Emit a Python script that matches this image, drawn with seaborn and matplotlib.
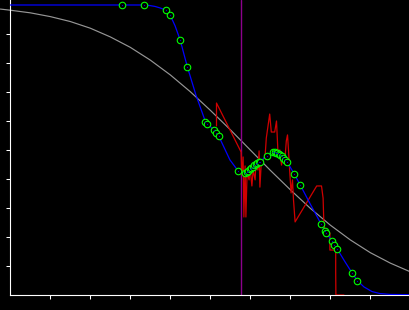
import matplotlib
matplotlib.use("Agg")
import matplotlib.pyplot as plt
import seaborn as sns
import pandas as pd

# ---- data ----
gray_x = [-0.25, 0.0, 0.5, 1.0, 1.5, 2.0, 2.5, 3.0, 3.5, 4.0, 4.5, 5.0, 5.5,
          6.0, 6.5, 7.0, 7.5, 8.0, 8.5, 9.0, 9.5, 10.0]
gray_y = [0.986, 0.982, 0.973, 0.960, 0.943, 0.920, 0.890, 0.854, 0.810, 0.759,
          0.701, 0.637, 0.570, 0.500, 0.430, 0.363, 0.299, 0.241, 0.190, 0.146,
          0.110, 0.080]

blue_x = [0.0, 3.35, 3.49, 3.62, 3.74, 3.90, 4.00, 4.12, 4.25, 4.34, 4.43, 4.64,
          4.88, 4.93, 5.09, 5.21, 5.34, 5.49, 5.70, 5.87, 5.99, 6.14, 6.255, 6.405,
          6.57, 6.64, 6.755, 6.87, 6.925, 7.10, 7.25, 7.505, 7.77, 7.87, 8.05,
          8.18, 8.37, 8.55, 8.675, 8.84, 9.04, 9.24, 9.49, 9.99]
blue_y = [1.0, 1.0, 0.998, 0.995, 0.990, 0.982, 0.964, 0.928, 0.878, 0.831, 0.785,
          0.690, 0.597, 0.590, 0.569, 0.548, 0.510, 0.466, 0.427, 0.420, 0.433,
          0.452, 0.460, 0.481, 0.493, 0.491, 0.483, 0.467, 0.458, 0.417, 0.379,
          0.312, 0.245, 0.220, 0.185, 0.157, 0.114, 0.075, 0.050, 0.028, 0.012,
          0.005, 0.002, 0.001]

green_x = [2.79, 3.35, 3.90, 4.00, 4.25, 4.43, 4.88, 4.93, 5.09, 5.155, 5.21,
           5.70, 5.87, 5.92, 5.955, 5.99, 6.03, 6.07, 6.105, 6.14, 6.18, 6.22,
           6.255, 6.405, 6.57, 6.605, 6.64, 6.68, 6.72, 6.755, 6.79, 6.83, 6.87,
           6.925, 7.10, 7.25, 7.77, 7.87, 7.90, 8.05, 8.10, 8.18, 8.55, 8.675]
green_y = [1.0, 1.0, 0.982, 0.964, 0.878, 0.785, 0.597, 0.590, 0.569, 0.559, 0.548,
           0.427, 0.420, 0.424, 0.428, 0.433, 0.438, 0.441, 0.447, 0.452, 0.455,
           0.459, 0.460, 0.481, 0.493, 0.493, 0.491, 0.490, 0.486, 0.483, 0.478,
           0.472, 0.467, 0.458, 0.417, 0.379, 0.245, 0.220, 0.215, 0.185, 0.171,
           0.157, 0.075, 0.050]

red_x = [5.155, 5.155, 5.77, 5.79, 5.82, 5.84, 5.87, 5.89, 5.92, 5.97, 5.99, 6.04,
         6.07, 6.12, 6.14, 6.19, 6.22, 6.24, 6.27, 6.32, 6.37, 6.40, 6.485, 6.525,
         6.61, 6.655, 6.69, 6.74, 6.78, 6.82, 6.87, 6.90, 6.93, 6.955, 6.98, 7.02,
         7.055, 7.08, 7.12, 7.66, 7.78, 7.82, 7.84, 7.89, 7.99, 7.99, 8.135, 8.135,
         8.14, 8.34]
red_y = [0.583, 0.662, 0.493, 0.414, 0.476, 0.269, 0.445, 0.269, 0.424, 0.397,
         0.445, 0.376, 0.431, 0.397, 0.455, 0.431, 0.497, 0.372, 0.445, 0.466,
         0.479, 0.541, 0.624, 0.562, 0.562, 0.600, 0.497, 0.500, 0.448, 0.486,
         0.476, 0.531, 0.552, 0.500, 0.438, 0.352, 0.397, 0.328, 0.252, 0.376,
         0.376, 0.334, 0.241, 0.217, 0.214, 0.155, 0.155, 0.079, 0.0, 0.0]

vline_x = 5.775

x_ticks = [1, 2, 3, 4, 5, 6, 7, 8, 9]
y_ticks = [0.1, 0.2, 0.3, 0.4, 0.5, 0.6, 0.7, 0.8, 0.9]

# ---- style ----
sns.set_style("dark", {"axes.facecolor": "black", "figure.facecolor": "black",
                       "axes.edgecolor": "white", "xtick.color": "white",
                       "ytick.color": "white"})
plt.rcParams['font.family'] = ['DejaVu Sans']

W, H = 410, 310
fig = plt.figure(figsize=(W / 100, H / 100), dpi=100, facecolor="black")
ax = fig.add_axes([10.3 / W, 15 / H, 399.7 / W, 295 / H])
ax.set_facecolor("black")

gray_df = pd.DataFrame({"x": gray_x, "y": gray_y})
blue_df = pd.DataFrame({"x": blue_x, "y": blue_y})
green_df = pd.DataFrame({"x": green_x, "y": green_y})
red_df = pd.DataFrame({"x": red_x, "y": red_y})

sns.lineplot(data=gray_df, x="x", y="y", ax=ax, color="#969696", lw=0.85,
             sort=False, estimator=None, clip_on=False, zorder=2)
ax.axvline(vline_x, color="#8c008c", lw=1.0, zorder=2.5)
sns.lineplot(data=red_df, x="x", y="y", ax=ax, color="#d00000", lw=0.9,
             sort=False, estimator=None, zorder=3)
sns.lineplot(data=blue_df, x="x", y="y", ax=ax, color="#0000ff", lw=0.9,
             sort=False, estimator=None, zorder=4)
sns.scatterplot(data=green_df, x="x", y="y", ax=ax, marker="o", s=22,
                facecolor="black", edgecolor="#00ff00", linewidth=0.8, zorder=5)
sns.scatterplot(data=green_df, x="x", y="y", ax=ax, marker="o", s=0.8,
                color="#0000cc", linewidth=0, zorder=6)

ax.set_xlim(0, 399.7 / 40)
ax.set_ylim(0, 295 / 290)
ax.set_xticks(x_ticks)
ax.set_yticks(y_ticks)
ax.set_xticklabels([])
ax.set_yticklabels([])
ax.set_xlabel("")
ax.set_ylabel("")
ax.tick_params(axis="both", direction="out", length=2.6, width=0.75,
               color="white", bottom=True, left=True)
for s in ["top", "right"]:
    ax.spines[s].set_visible(False)
for s in ["left", "bottom"]:
    ax.spines[s].set_color("white")
    ax.spines[s].set_linewidth(0.8)
ax.grid(False)

fig.savefig("out.png", dpi=100, facecolor="black")
